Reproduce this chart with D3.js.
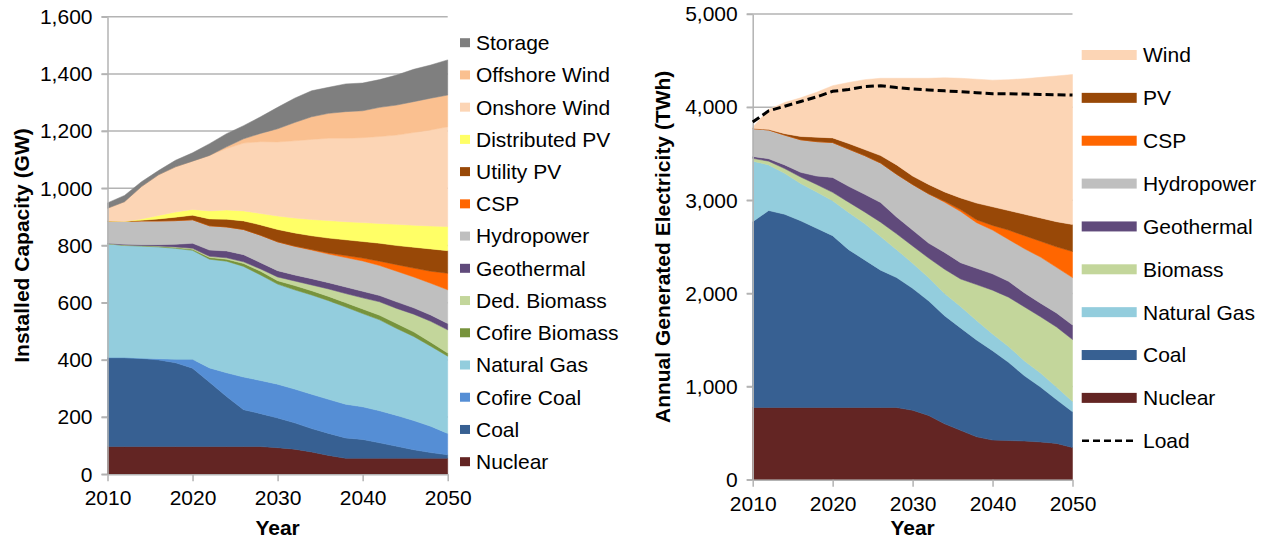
<!DOCTYPE html>
<html><head><meta charset="utf-8">
<script src="https://cdn.jsdelivr.net/npm/d3@7"></script>
<style>
body{margin:0;background:#fff}
svg{display:block}
text{font-family:"Liberation Sans",Arial,sans-serif;fill:#000}
</style></head>
<body><svg id="c" width="1273" height="543"></svg>
<script>
const years = [2010,2012,2014,2016,2018,2020,2022,2024,2026,2028,2030,2032,2034,2036,2038,2040,2042,2044,2046,2048,2050];

// Left panel: Installed Capacity (GW)
const capNuclear       = [97,97,97,97,97,97,97,97,97,97,93,88,78,66,56,56,56,56,56,56,56];
const capCoal          = [311,311,308,303,293,274,225,175,129,115,104,92,82,77,71,66,54,42,30,20,12];
const capCofireCoal    = [0,0,1,4,12,31,50,83,114,116,118,118,120,119,118,114,112,108,102,92,75];
const capNaturalGas    = [398,392,392,391,388,381,380,390,387,369,350,347,347,345,340,326,318,304,294,280,270];
const capCofireBiomass = [0,1,1,2,3,4,6,7,10,13,12,15,15,15,15,16,16,17,16,14,11];
const capDedBiomass    = [1,1,1,1,2,3,4,5,6,8,13,16,20,26,32,39,47,53,62,73,81];
const capGeothermal    = [1,2,3,5,9,18,22,24,25,22,22,21,22,22,23,23,22,23,22,22,22];
const capHydropower    = [78,80,83,83,83,82,85,84,88,96,101,100,100,100,103,106,105,107,108,111,118];
const capCSP           = [0,0,0,0,0,0,0,0,0,0,0,1,2,4,7,10,15,23,31,42,58];
const capUtilityPV     = [0,0,2,7,12,16,24,27,30,36,43,46,48,52,55,58,63,67,73,78,79];
const capDistributedPV = [0,0,5,12,18,20,28,32,35,40,47,52,57,61,63,66,69,74,77,80,84];
const capOnshoreWind   = [44,69,113,142,158,169,194,215,237,251,259,270,280,288,292,297,304,312,324,336,349];
const capOffshoreWind  = [0,0,0,0,0,0,0,6,15,29,46,64,79,87,93,94,102,105,108,111,111];
const capStorage       = [19,22,17,15,23,29,41,46,46,58,75,85,91,91,97,97,97,105,113,116,123];

const capKeys = ["Nuclear","Coal","Cofire Coal","Natural Gas","Cofire Biomass","Ded. Biomass","Geothermal","Hydropower","CSP","Utility PV","Distributed PV","Onshore Wind","Offshore Wind","Storage"];
const capSeries = [capNuclear,capCoal,capCofireCoal,capNaturalGas,capCofireBiomass,capDedBiomass,capGeothermal,capHydropower,capCSP,capUtilityPV,capDistributedPV,capOnshoreWind,capOffshoreWind,capStorage];
const capColors = ["#632523","#376092","#558ed5","#93cddd","#77933c","#c3d69b","#604a7b","#bfbfbf","#ff6600","#984807","#ffff66","#fcd5b5","#fac090","#7f7f7f"];
const capTicks = [0,200,400,600,800,1000,1200,1400,1600];

// Right panel: Annual Generated Electricity (TWh)
const genNuclear    = [775,775,775,775,775,775,775,775,775,775,745,690,600,530,460,425,420,415,405,390,345];
const genCoal       = [1995,2115,2075,2005,1925,1845,1695,1585,1475,1395,1310,1230,1160,1100,1040,960,840,700,590,470,385];
const genNaturalGas = [650,490,440,400,390,375,400,390,360,300,270,250,240,230,210,180,170,160,150,135,110];
const genBiomass    = [30,40,50,70,80,90,110,125,155,170,185,210,260,295,385,470,530,580,605,645,665];
const genGeothermal = [20,25,40,50,90,160,170,190,210,180,170,160,180,175,175,175,170,150,145,150,155];
const genHydropower = [300,310,320,350,370,375,400,415,425,460,490,530,540,550,490,470,450,475,495,490,510];
const genCSP        = [0,0,0,0,0,0,0,0,0,0,0,0,10,20,30,50,100,140,170,220,280];
const genPV         = [0,5,15,35,48,50,60,65,80,100,90,100,100,125,180,200,210,230,250,270,290];
const genWind       = [15,215,335,415,482,560,655,750,830,930,1050,1140,1225,1285,1330,1360,1405,1455,1510,1565,1610];
const genLoad       = [3840,3960,4010,4060,4110,4170,4190,4220,4230,4210,4195,4185,4175,4165,4155,4145,4145,4140,4135,4133,4130];

const genKeys = ["Nuclear","Coal","Natural Gas","Biomass","Geothermal","Hydropower","CSP","PV","Wind"];
const genSeries = [genNuclear,genCoal,genNaturalGas,genBiomass,genGeothermal,genHydropower,genCSP,genPV,genWind];
const genColors = ["#632523","#376092","#93cddd","#c3d69b","#604a7b","#bfbfbf","#ff6600","#984807","#fcd5b5"];
const genTicks = [0,1000,2000,3000,4000,5000];

const xTicks = [2010,2020,2030,2040,2050];

const svg = d3.select("#c");
const GRID = "#b3b3b3";
const FS = 21;

function panel(o){
  const g = svg.append("g");
  const x = d3.scaleLinear().domain([2010,2050]).range([o.x0,o.x1]);
  const y = d3.scaleLinear().domain([0,o.ymax]).range([o.y0,o.y1]);
  // gridlines
  g.selectAll("line.grid").data(o.ticks).join("line")
    .attr("x1",o.x0-6).attr("x2",o.x1).attr("y1",d=>y(d)).attr("y2",d=>y(d))
    .attr("stroke",GRID).attr("stroke-width",1.5);
  // stacked areas
  const rows = years.map((yr,i)=>{const r={year:yr}; o.keys.forEach((k,j)=>r[k]=o.series[j][i]); return r;});
  const stack = d3.stack().keys(o.keys)(rows);
  const area = d3.area().x(d=>x(d.data.year)).y0(d=>y(d[0])).y1(d=>y(d[1])).curve(d3.curveLinear);
  g.selectAll("path.layer").data(stack).join("path")
    .attr("d",area).attr("fill",(d,i)=>o.colors[i]).attr("stroke",(d,i)=>o.colors[i]).attr("stroke-width",0.5);
  // axes
  const ya = d3.axisLeft(y).tickValues(o.ticks).tickFormat(d3.format(",")).tickSize(6).tickSizeOuter(0).tickPadding(9);
  const yg = g.append("g").attr("transform",`translate(${o.x0},0)`).call(ya);
  const xa = d3.axisBottom(x).tickValues(xTicks).tickFormat(d3.format("d")).tickSize(7).tickSizeOuter(0).tickPadding(9);
  const xg = g.append("g").attr("transform",`translate(0,${o.y0})`).call(xa);
  [yg,xg].forEach(a=>{
    a.select(".domain").attr("stroke",GRID).attr("stroke-width",1.5);
    a.selectAll(".tick line").attr("stroke",GRID).attr("stroke-width",1.5);
    a.selectAll(".tick text").attr("font-size",FS).attr("font-family","Liberation Sans, Arial, sans-serif").attr("fill","#000");
  });
  // titles
  g.append("text").attr("x",(o.x0+o.x1)/2).attr("y",535).attr("text-anchor","middle")
    .attr("font-size",FS).attr("font-weight","bold").text("Year");
  g.append("text").attr("transform",`translate(${o.tx},${(o.y0+o.y1)/2}) rotate(-90)`)
    .attr("text-anchor","middle").attr("dy","0.35em").attr("font-size",FS).attr("font-weight","bold").text(o.title);
  return {g,x,y};
}

// Left
panel({x0:107.5,x1:447.7,y0:474.3,y1:16.7,ymax:1600,ticks:capTicks,keys:capKeys,series:capSeries,colors:capColors,
  title:"Installed Capacity (GW)",tx:22});
// Left legend (top = last key)
const capLeg = capKeys.map((k,i)=>({k,c:capColors[i]})).reverse();
const lg = svg.append("g");
capLeg.forEach((d,i)=>{
  const cy = 42.7 + i*32.23;
  lg.append("rect").attr("x",460).attr("y",cy-4.5).attr("width",10).attr("height",9).attr("fill",d.c);
  lg.append("text").attr("x",476).attr("y",cy).attr("dy","0.35em").attr("font-size",FS).text(d.k);
});

// Right
const R = panel({x0:752.7,x1:1072.5,y0:479.7,y1:14,ymax:5000,ticks:genTicks,keys:genKeys,series:genSeries,colors:genColors,
  title:"Annual Generated Electricity (TWh)",tx:663});
const loadLine = d3.line().x((d,i)=>R.x(years[i])).y(d=>R.y(d));
R.g.append("path").attr("d",loadLine(genLoad)).attr("fill","none").attr("stroke","#000")
  .attr("stroke-width",3).attr("stroke-dasharray","8,4");
// Right legend
const genLeg = genKeys.map((k,i)=>({k,c:genColors[i]})).reverse();
const rg = svg.append("g");
genLeg.forEach((d,i)=>{
  const cy = 55 + i*42.86;
  rg.append("rect").attr("x",1081.7).attr("y",cy-5).attr("width",55).attr("height",10).attr("fill",d.c);
  rg.append("text").attr("x",1143).attr("y",cy).attr("dy","0.35em").attr("font-size",FS).text(d.k);
});
{
  const cy = 55 + 9*42.86;
  rg.append("line").attr("x1",1082).attr("x2",1137).attr("y1",cy).attr("y2",cy)
    .attr("stroke","#000").attr("stroke-width",2.5).attr("stroke-dasharray","7,4");
  rg.append("text").attr("x",1143).attr("y",cy).attr("dy","0.35em").attr("font-size",FS).text("Load");
}
</script></body></html>
